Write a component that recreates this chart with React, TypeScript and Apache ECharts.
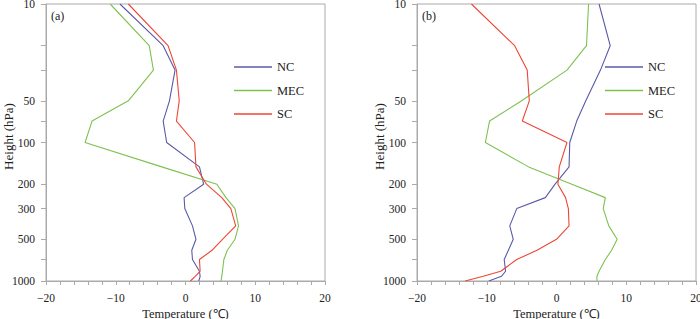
import React, { useEffect, useRef } from "react";
import * as echarts from "echarts";

const levels = [1000, 925, 850, 700, 600, 500, 400, 300, 250, 200, 150, 100, 70, 50, 30, 20, 10];

const ncA = [1.9, 2.1, 2.0, 1.0, 0.9, 1.5, 1.0, -0.1, -0.2, 2.6, 2.0, -2.7, -3.2, -2.3, -1.5, -3.2, -9.4];
const mecA = [5.1, 5.2, 5.3, 5.5, 6.0, 7.1, 7.6, 7.1, 5.8, 4.5, -3.4, -14.4, -13.4, -8.2, -4.6, -5.2, -10.8];
const scA = [0.7, 1.4, 2.1, 2.0, 3.8, 5.3, 7.2, 6.5, 5.2, 3.0, 1.5, 1.3, -1.3, -0.9, -1.3, -2.5, -8.2];

const ncB = [-9.7, -7.9, -7.3, -7.5, -6.9, -6.2, -6.7, -5.7, -1.6, -0.2, 1.8, 1.9, 2.9, 4.2, 6.3, 7.7, 6.1];
const mecB = [5.8, 5.8, 6.1, 7.0, 7.9, 8.7, 7.5, 6.7, 7.0, 2.2, -4.0, -10.2, -9.6, -5.0, 1.5, 4.3, 4.6];
const scB = [-13.1, -10.5, -8.0, -5.7, -2.8, 0.0, 1.8, 1.7, 1.3, 0.2, 0.4, 1.5, -4.9, -3.9, -4.2, -6.0, -12.2];

const seriesNames = ["NC", "MEC", "SC"];
const seriesColors = ["#5a5aa8", "#7fc150", "#ee4634"];
const panelLabels = ["(a)", "(b)"];

const yTickValues = [10, 20, 30, 50, 70, 100, 200, 300, 500, 700, 1000];
const yLabelValues = [10, 50, 100, 200, 300, 500, 1000];

const FONT = "Liberation Serif, serif";
const AXIS_COLOR = "#aaaaaa";
const TEXT_COLOR = "#222222";

function pairs(temps: number[]) {
  return temps.map((t, i) => [t, levels[i]]);
}

export default function App() {
  const ref = useRef<HTMLDivElement>(null);
  useEffect(() => {
    if (!ref.current) return;
    const chart = echarts.init(ref.current, null, { renderer: "svg" });
    const panels = [
      { left: 46, data: [ncA, mecA, scA] },
      { left: 417, data: [ncB, mecB, scB] },
    ];
    const grids = panels.map((p) => ({
      left: p.left,
      top: 4,
      width: 279,
      height: 277,
      containLabel: false,
      outerBoundsMode: "none",
      show: true,
      borderColor: AXIS_COLOR,
      borderWidth: 1,
      backgroundColor: "transparent",
    }));
    const xAxes = panels.map((_, i) => ({
      type: "value",
      gridIndex: i,
      min: -20,
      max: 20,
      interval: 2,
      name: "Temperature (\u2103)",
      nameLocation: "middle",
      nameGap: 26,
      nameMoveOverlap: false,
      nameTextStyle: { fontFamily: FONT, fontSize: 12.5, color: TEXT_COLOR },
      axisLine: { show: true, onZero: false, lineStyle: { color: AXIS_COLOR } },
      axisTick: { show: true, length: 4, lineStyle: { color: AXIS_COLOR } },
      splitLine: { show: false },
      axisLabel: {
        fontFamily: FONT,
        fontSize: 11.5,
        color: TEXT_COLOR,
        margin: 11,
        formatter: (v: number) =>
          v % 10 === 0 ? (v < 0 ? "\u2212" + Math.abs(v) : String(v)) : "",
      },
    }));
    const yAxes = panels.map((_, i) => ({
      type: "log",
      logBase: 10,
      gridIndex: i,
      min: 10,
      max: 1000,
      inverse: true,
      name: "Height (hPa)",
      nameLocation: "middle",
      nameGap: 31,
      nameMoveOverlap: false,
      nameTextStyle: {
        fontFamily: FONT,
        fontSize: 13,
        color: TEXT_COLOR,
        padding: [0, 0, 0, 12],
      },
      axisLine: { show: true, onZero: false, lineStyle: { color: AXIS_COLOR } },
      axisTick: {
        show: true,
        length: 5,
        customValues: yTickValues,
        lineStyle: { color: AXIS_COLOR },
      },
      splitLine: { show: false },
      minorTick: { show: false },
      axisLabel: {
        fontFamily: FONT,
        fontSize: 11.5,
        color: TEXT_COLOR,
        margin: 11,
        customValues: yLabelValues,
        formatter: (v: number) => String(Math.round(v)),
      },
    }));
    const series: any[] = [];
    panels.forEach((p, pi) => {
      p.data.forEach((temps, si) => {
        series.push({
          type: "line",
          name: seriesNames[si],
          xAxisIndex: pi,
          yAxisIndex: pi,
          data: pairs(temps),
          symbol: "none",
          showSymbol: false,
          lineStyle: { color: seriesColors[si], width: 1.1 },
          itemStyle: { color: seriesColors[si] },
        });
      });
    });
    const legends = panels.map((p) => ({
      data: seriesNames,
      orient: "vertical",
      left: p.left + 188,
      top: 60,
      padding: 0,
      icon: "rect",
      itemWidth: 38,
      itemHeight: 1.5,
      itemGap: 9.5,
      textStyle: {
        fontFamily: FONT,
        fontSize: 12.5,
        color: TEXT_COLOR,
        lineHeight: 14,
      },
    }));
    chart.setOption({
      animation: false,
      backgroundColor: "#fff",
      textStyle: { fontFamily: FONT },
      grid: grids,
      xAxis: xAxes,
      yAxis: yAxes,
      legend: legends,
      series,
      graphic: panels.map((p, i) => ({
        type: "text",
        left: p.left + 5,
        top: 10,
        style: { text: panelLabels[i], fontFamily: FONT, fontSize: 12, fill: TEXT_COLOR },
      })),
    });
    return () => chart.dispose();
  }, []);
  return <div ref={ref} style={{ width: 700, height: 319, position: "absolute", left: 0, top: 0 }} />;
}
